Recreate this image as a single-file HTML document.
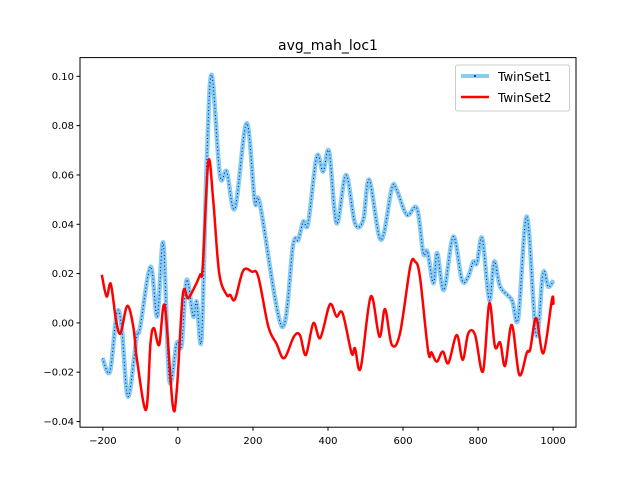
<!DOCTYPE html>
<html><head><meta charset="utf-8"><style>
body{margin:0;background:#fff;font-family:"Liberation Sans","DejaVu Sans",sans-serif}
svg text{font-family:"DejaVu Sans","Liberation Sans",sans-serif}
</style></head><body>
<svg id="chart" width="640" height="480" xmlns="http://www.w3.org/2000/svg">
<rect width="640" height="480" fill="#fff"/>
<text x="328" y="50" text-anchor="middle" font-size="14">avg_mah_loc1</text>
<g id="grid"></g>
<g id="series"></g>
<rect x="80" y="57.6" width="496" height="369.6" fill="none" stroke="#000" stroke-width="1"/>
<g id="axes"></g>
<g>
<rect x="455.5" y="65" width="114" height="46" rx="2" fill="#fff" fill-opacity="0.8" stroke="#ccc"/>
<line x1="461" y1="76" x2="489" y2="76" stroke="#87ceeb" stroke-width="4"/>
<circle cx="475" cy="76" r="1" fill="#0000ff"/>
<text x="498" y="81" font-size="12">TwinSet1</text>
<line x1="461" y1="97" x2="489" y2="97" stroke="#ff0000" stroke-width="2.5"/>
<text x="498" y="102" font-size="12">TwinSet2</text>
</g>
</svg>
<script>
const xTicks=[-200,0,200,400,600,800,1000];
const yTicks=[-0.04,-0.02,0.00,0.02,0.04,0.06,0.08,0.10];
const yTickLabels=["−0.04","−0.02","0.00","0.02","0.04","0.06","0.08","0.10"];
const s1x=[-201,-181,-163,-150,-133,-110,-101,-73,-55,-39,-23,-3,10,23,41,50,63,77,90,112,130,152,183,205,219,277,307,321,334,347,370,387,403,423,448,472,494,510,541,570,583,610,637,654,665,681,691,709,734,757,774,787,797,811,830,843,859,890,907,930,955,973,987,1001];
const s1y=[-0.0143,-0.0197,0.0039,-0.0015,-0.0299,-0.0056,-0.0021,0.0228,0.0026,0.0323,-0.0231,-0.0082,-0.0089,0.0174,0.0026,0.0086,-0.0062,0.0661,0.1006,0.0600,0.0614,0.0465,0.0810,0.0492,0.0479,-0.0015,0.0316,0.0337,0.0411,0.0404,0.0674,0.0614,0.0695,0.0404,0.0600,0.0404,0.0418,0.0580,0.0337,0.0546,0.0539,0.0438,0.0465,0.0283,0.0289,0.0161,0.0283,0.0134,0.0350,0.0174,0.0188,0.0249,0.0242,0.0343,0.0093,0.0249,0.0147,0.0093,0.0019,0.0431,-0.0049,0.0202,0.0147,0.0172];
const s2x=[-203,-190,-179,-165,-153,-135,-119,-109,-85,-73,-64,-50,-35,-14,-3,13,27,45,59,66,81,94,110,130,139,152,174,197,214,241,263,283,309,325,341,361,379,401,410,423,439,463,472,487,514,537,552,570,592,619,632,645,667,676,690,706,721,743,759,774,792,813,830,845,859,872,890,910,930,939,955,974,997,1001];
const s2y=[0.0195,0.0107,0.0158,0.0012,-0.0042,0.0069,-0.0015,-0.0150,-0.0353,-0.0082,-0.0021,-0.0089,0.0069,-0.0333,-0.0272,0.0114,0.0100,0.0147,0.0195,0.0228,0.0654,0.0499,0.0202,0.0114,0.0114,0.0096,0.0212,0.0208,0.0188,-0.0015,-0.0085,-0.0143,-0.0056,-0.0049,-0.0130,-0.0001,-0.0062,0.0060,0.0073,0.0026,0.0039,-0.0123,-0.0103,-0.0184,0.0107,-0.0056,0.0056,-0.0089,-0.0042,0.0228,0.0249,0.0188,-0.0116,-0.0120,-0.0157,-0.0116,-0.0163,-0.0049,-0.0150,-0.0042,-0.0049,-0.0197,0.0080,-0.0096,-0.0080,-0.0174,-0.0008,-0.0211,-0.0120,-0.0107,0.0019,-0.0123,0.0096,0.0073];

const NS="http://www.w3.org/2000/svg";
const L=80,T=57.6,W=496,H=369.6,xmin=-261,xmax=1061,ymin=-0.0423,ymax=0.1076;
function sx(v){return L+(v-xmin)/(xmax-xmin)*W;}
function sy(v){return T+H-(v-ymin)/(ymax-ymin)*H;}
function mk(tag,attrs,parent){const e=document.createElementNS(NS,tag);for(const k in attrs)e.setAttribute(k,attrs[k]);parent.appendChild(e);return e;}
function smooth(xs,ys){
  const p=xs.map((x,i)=>[sx(x),sy(ys[i])]);
  let d="M"+p[0][0].toFixed(1)+","+p[0][1].toFixed(1);
  for(let i=0;i<p.length-1;i++){
    const p0=p[i-1]||p[i],p1=p[i],p2=p[i+1],p3=p[i+2]||p2;
    const c1=[p1[0]+(p2[0]-p0[0])/6,p1[1]+(p2[1]-p0[1])/6];
    const c2=[p2[0]-(p3[0]-p1[0])/6,p2[1]-(p3[1]-p1[1])/6];
    d+=" C"+c1.map(v=>v.toFixed(1))+" "+c2.map(v=>v.toFixed(1))+" "+p2.map(v=>v.toFixed(1));
  }
  return d;
}
const ax=document.getElementById('axes'),ser=document.getElementById('series');
xTicks.forEach(t=>{
  const g=mk('g',{},ax);
  
  
  mk('line',{x1:sx(t),x2:sx(t),y1:T+H,y2:T+H+3.5,stroke:'#000'},g);
  const tx=mk('text',{x:sx(t),y:T+H+17,'text-anchor':'middle','font-size':'10'},g);tx.textContent=t<0?'−'+(-t):t;
});
yTicks.forEach((t,i)=>{
  const g=mk('g',{},ax);
  
  
  mk('line',{x1:L-3.5,x2:L,y1:sy(t),y2:sy(t),stroke:'#000'},g);
  const tx=mk('text',{x:L-6,y:sy(t)+3.5,'text-anchor':'end','font-size':'10'},g);tx.textContent=yTickLabels[i];
});
const d1=smooth(s1x,s1y);
const a=mk('path',{d:d1,fill:'none',stroke:'#87ceeb','stroke-width':4.5,'stroke-linejoin':'round'},ser);


const b=mk('path',{d:d1,fill:'none',stroke:'#0000ff','stroke-width':1,'stroke-dasharray':'1 2.5'},ser);


const c=mk('path',{d:smooth(s2x,s2y),fill:'none',stroke:'#ff0000','stroke-width':2.5,'stroke-linejoin':'round'},ser);


</script>
</body></html>
